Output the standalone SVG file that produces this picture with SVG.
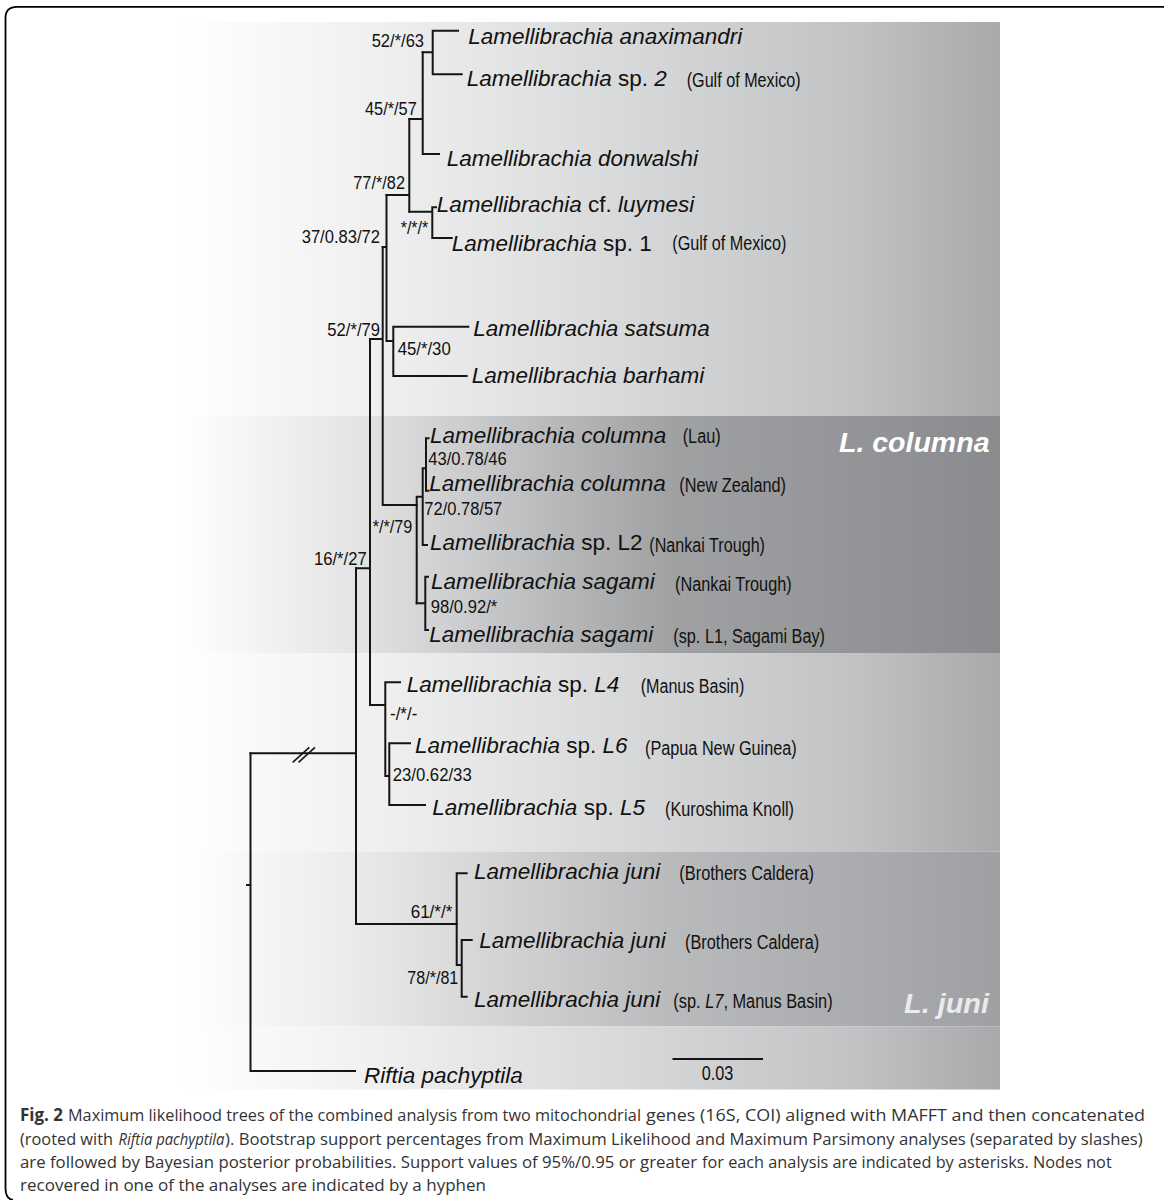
<svg xmlns="http://www.w3.org/2000/svg" width="1164" height="1200" viewBox="0 0 1164 1200">
<defs>
<linearGradient id="gLight" x1="180" y1="0" x2="1000" y2="0" gradientUnits="userSpaceOnUse">
<stop offset="0" stop-color="#ffffff"/>
<stop offset="0.25" stop-color="#efefef"/>
<stop offset="0.55" stop-color="#d7d8d9"/>
<stop offset="0.82" stop-color="#c2c3c5"/>
<stop offset="1" stop-color="#a8a9ab"/>
</linearGradient>
<linearGradient id="gDark" x1="180" y1="0" x2="1000" y2="0" gradientUnits="userSpaceOnUse">
<stop offset="0" stop-color="#ffffff"/>
<stop offset="0.2" stop-color="#e6e6e6"/>
<stop offset="0.45" stop-color="#b9babc"/>
<stop offset="0.6" stop-color="#a0a1a3"/>
<stop offset="1" stop-color="#8a8b8e"/>
</linearGradient>
<linearGradient id="gMid" x1="180" y1="0" x2="1000" y2="0" gradientUnits="userSpaceOnUse">
<stop offset="0" stop-color="#ffffff"/>
<stop offset="0.2" stop-color="#ececec"/>
<stop offset="0.4" stop-color="#d2d2d3"/>
<stop offset="0.6" stop-color="#b9babc"/>
<stop offset="1" stop-color="#9fa0a3"/>
</linearGradient>
</defs>
<style>
.br{fill:none;stroke:#151515;stroke-width:2;stroke-linecap:square}
.sp{font-family:"Liberation Sans",Arial,sans-serif;font-size:22.5px;font-style:italic;fill:#111}
.up{font-style:normal}
.loc{font-family:"Liberation Sans Narrow","Arial Narrow","Liberation Sans",sans-serif;font-size:20px;fill:#111}
.locit{font-family:"Liberation Sans Narrow","Arial Narrow","Liberation Sans",sans-serif;font-size:20px;font-style:italic;fill:#111}
.sup{font-family:"Liberation Sans",Arial,sans-serif;font-size:17.5px;fill:#111}
.clade{font-family:"Liberation Sans",Arial,sans-serif;font-size:28px;font-weight:bold;font-style:italic}
.cap{font-family:"Open Sans","Liberation Sans",sans-serif;font-size:17px;fill:#333}
.capb{font-family:"Open Sans","Liberation Sans",sans-serif;font-size:17px;font-weight:bold;fill:#333}
.capi{font-family:"Open Sans","Liberation Sans",sans-serif;font-size:17px;font-style:italic;fill:#333}
</style>
<rect width="1164" height="1200" fill="#ffffff"/>
<path d="M1164 6.8 H17 Q5.5 6.8 5.5 18 V1188 Q5.5 1199 13 1200" fill="none" stroke="#000" stroke-width="1.8"/>
<g id="background">
<rect x="180" y="22" width="820" height="394" fill="url(#gLight)"/>
<rect x="180" y="416" width="820" height="237" fill="url(#gDark)"/>
<rect x="180" y="653" width="820" height="198.5" fill="url(#gLight)"/>
<rect x="180" y="851.5" width="820" height="175" fill="url(#gMid)"/>
<rect x="180" y="1026.5" width="820" height="63" fill="url(#gLight)"/>
</g>
<g id="connectors">
<path class="br" d="M432.7 30.7 H458 M432.7 74.3 H461.7 M432.7 30.7 V74.3 M422.7 52.3 H432.7"/>
<path class="br" d="M422.7 154 H439 M422.7 52.3 V154 M409.3 119 H422.7"/>
<path class="br" d="M432.3 207.3 H436 M432.3 238 H451.7 M432.3 207.3 V238 M409.3 211.7 H432.3"/>
<path class="br" d="M409.3 119 V211.7 M386.5 195 H409.3"/>
<path class="br" d="M386.5 195 V341 M386.5 341 H393.3 M393.3 326.7 V376 M393.3 326.7 H468.3 M393.3 376 H466.7 M382.7 247 H386.5"/>
<path class="br" d="M382.7 247 V505 M370 339 H382.7 M382.7 505 H416.7"/>
<path class="br" d="M416.7 496.7 V603.3 M416.7 496.7 H422.7 M422.7 468.3 V545 M422.7 468.3 H426 M426 438.3 V490.7 M426 438.3 H428.5 M426 490.7 H428.5 M422.7 545 H427"/>
<path class="br" d="M416.7 603.3 H425.3 M425.3 576.7 V630 M425.3 576.7 H428 M425.3 630 H428"/>
<path class="br" d="M370 339 V705 M356 568.3 H370 M370 705 H385.3 M385.3 682.3 V776 M385.3 682.3 H400 M385.3 776 H389.3 M389.3 743.3 V805 M389.3 743.3 H410 M389.3 805 H425"/>
<path class="br" d="M356 568.3 V924 M250.5 753.3 H356 M356 924 H456.7"/>
<path class="br" d="M456.7 873.3 V965 M456.7 873.3 H466.7 M456.7 965 H461.7 M461.7 940 V996.7 M461.7 940 H471.7 M461.7 996.7 H466.7"/>
<path class="br" d="M250.5 753.3 V1071 M250.5 1071 H355 M247 885 H250.5"/>
<path d="M292.7 762.3 L309.3 747.3 M298.5 762.3 L315 747.3" fill="none" stroke="#151515" stroke-width="1.6"/>
<path d="M672.5 1059 H763" fill="none" stroke="#151515" stroke-width="2"/>
</g>
<g id="leaf-anaximandri"><text class="sp" x="468.3" y="44.3">Lamellibrachia anaximandri</text></g>
<g id="leaf-sp2"><text class="sp" x="466.7" y="86">Lamellibrachia<tspan class="up"> sp. </tspan>2</text><text class="loc" x="686.7" y="86.7" textLength="114" lengthAdjust="spacingAndGlyphs">(Gulf of Mexico)</text></g>
<g id="leaf-donwalshi"><text class="sp" x="446.7" y="165.7">Lamellibrachia donwalshi</text></g>
<g id="leaf-luymesi"><text class="sp" x="436.7" y="211.7">Lamellibrachia<tspan class="up"> cf. </tspan>luymesi</text></g>
<g id="leaf-sp1"><text class="sp" x="451.7" y="250.7">Lamellibrachia<tspan class="up"> sp. 1</tspan></text><text class="loc" x="672.3" y="250" textLength="114" lengthAdjust="spacingAndGlyphs">(Gulf of Mexico)</text></g>
<g id="leaf-satsuma"><text class="sp" x="473.3" y="336">Lamellibrachia satsuma</text></g>
<g id="leaf-barhami"><text class="sp" x="471.7" y="382.7">Lamellibrachia barhami</text></g>
<g id="leaf-columna-lau"><text class="sp" x="430" y="442.7">Lamellibrachia columna</text><text class="loc" x="682.7" y="443.3" textLength="38" lengthAdjust="spacingAndGlyphs">(Lau)</text></g>
<g id="leaf-columna-nz"><text class="sp" x="429.3" y="490.7">Lamellibrachia columna</text><text class="loc" x="679.3" y="491.7" textLength="106.7" lengthAdjust="spacingAndGlyphs">(New Zealand)</text></g>
<g id="leaf-L2"><text class="sp" x="430" y="550">Lamellibrachia<tspan class="up"> sp. L2</tspan></text><text class="loc" x="649.3" y="551.7" textLength="115.7" lengthAdjust="spacingAndGlyphs">(Nankai Trough)</text></g>
<g id="leaf-sagami-nankai"><text class="sp" x="431" y="589.3">Lamellibrachia sagami</text><text class="loc" x="675" y="591.3" textLength="116.7" lengthAdjust="spacingAndGlyphs">(Nankai Trough)</text></g>
<g id="leaf-sagami-bay"><text class="sp" x="429.3" y="641.7">Lamellibrachia sagami</text><text class="loc" x="673.3" y="642.9" textLength="151.7" lengthAdjust="spacingAndGlyphs">(sp. L1, Sagami Bay)</text></g>
<g id="leaf-L4"><text class="sp" x="406.7" y="691.7">Lamellibrachia<tspan class="up"> sp. </tspan>L4</text><text class="loc" x="640.7" y="692.8" textLength="103.7" lengthAdjust="spacingAndGlyphs">(Manus Basin)</text></g>
<g id="leaf-L6"><text class="sp" x="415" y="753.3">Lamellibrachia<tspan class="up"> sp. </tspan>L6</text><text class="loc" x="645" y="754.8" textLength="151.7" lengthAdjust="spacingAndGlyphs">(Papua New Guinea)</text></g>
<g id="leaf-L5"><text class="sp" x="432.3" y="815">Lamellibrachia<tspan class="up"> sp. </tspan>L5</text><text class="loc" x="665" y="816.1" textLength="129" lengthAdjust="spacingAndGlyphs">(Kuroshima Knoll)</text></g>
<g id="leaf-juni-1"><text class="sp" x="474" y="879">Lamellibrachia juni</text><text class="loc" x="679.3" y="879.8" textLength="134.7" lengthAdjust="spacingAndGlyphs">(Brothers Caldera)</text></g>
<g id="leaf-juni-2"><text class="sp" x="479.3" y="948.3">Lamellibrachia juni</text><text class="loc" x="685" y="949.4" textLength="134.3" lengthAdjust="spacingAndGlyphs">(Brothers Caldera)</text></g>
<g id="leaf-juni-L7"><text class="sp" x="474" y="1007.3">Lamellibrachia juni</text><text class="loc" x="673.3" y="1007.9" textLength="159.3" lengthAdjust="spacingAndGlyphs">(sp. <tspan font-style="italic">L7</tspan>, Manus Basin)</text></g>
<g id="leaf-riftia"><text class="sp" x="364" y="1082.7">Riftia pachyptila</text></g>
<g id="supports">
<text class="sup" x="371.7" y="47" textLength="52.3" lengthAdjust="spacingAndGlyphs">52/*/63</text>
<text class="sup" x="365" y="115" textLength="51.7" lengthAdjust="spacingAndGlyphs">45/*/57</text>
<text class="sup" x="353.3" y="189.3" textLength="51.7" lengthAdjust="spacingAndGlyphs">77/*/82</text>
<text class="sup" x="400.7" y="233.5" textLength="27.6" lengthAdjust="spacingAndGlyphs">*/*/*</text>
<text class="sup" x="301.7" y="243.3" textLength="78.3" lengthAdjust="spacingAndGlyphs">37/0.83/72</text>
<text class="sup" x="327.3" y="335.7" textLength="52.7" lengthAdjust="spacingAndGlyphs">52/*/79</text>
<text class="sup" x="397.7" y="355" textLength="53" lengthAdjust="spacingAndGlyphs">45/*/30</text>
<text class="sup" x="428.3" y="465" textLength="78.4" lengthAdjust="spacingAndGlyphs">43/0.78/46</text>
<text class="sup" x="424.3" y="515" textLength="78" lengthAdjust="spacingAndGlyphs">72/0.78/57</text>
<text class="sup" x="372.7" y="533.3" textLength="39.6" lengthAdjust="spacingAndGlyphs">*/*/79</text>
<text class="sup" x="314" y="565" textLength="52.7" lengthAdjust="spacingAndGlyphs">16/*/27</text>
<text class="sup" x="430.7" y="612.7" textLength="66.6" lengthAdjust="spacingAndGlyphs">98/0.92/*</text>
<text class="sup" x="390" y="720" textLength="27.3" lengthAdjust="spacingAndGlyphs">-/*/-</text>
<text class="sup" x="392.7" y="780.7" textLength="79" lengthAdjust="spacingAndGlyphs">23/0.62/33</text>
<text class="sup" x="410.7" y="918.3" textLength="41.6" lengthAdjust="spacingAndGlyphs">61/*/*</text>
<text class="sup" x="407.3" y="984" textLength="51" lengthAdjust="spacingAndGlyphs">78/*/81</text>
</g>
<g id="clade-columna"><text class="clade" x="839" y="451.5" fill="#ffffff" textLength="150.5" lengthAdjust="spacingAndGlyphs">L. columna</text></g>
<g id="clade-juni"><text class="clade" x="904" y="1013" fill="#ebebeb" textLength="85" lengthAdjust="spacingAndGlyphs">L. juni</text></g>
<g id="scale-bar"><text class="loc" x="701.7" y="1080" textLength="31.6" lengthAdjust="spacingAndGlyphs">0.03</text></g>
<g id="caption">
<text class="capb" x="20" y="1121" textLength="43" lengthAdjust="spacingAndGlyphs">Fig. 2</text>
<text class="cap" x="68" y="1121" textLength="573" lengthAdjust="spacingAndGlyphs">Maximum likelihood trees of the combined analysis from two mitochondrial</text>
<text class="cap" x="646" y="1121" textLength="499" lengthAdjust="spacingAndGlyphs">genes (16S, COI) aligned with MAFFT and then concatenated</text>
<text class="cap" x="20" y="1145" textLength="93" lengthAdjust="spacingAndGlyphs">(rooted with</text>
<text class="capi" x="118.5" y="1145" textLength="106" lengthAdjust="spacingAndGlyphs">Riftia pachyptila</text>
<text class="cap" x="225" y="1145" textLength="917.7" lengthAdjust="spacingAndGlyphs">). Bootstrap support percentages from Maximum Likelihood and Maximum Parsimony analyses (separated by slashes)</text>
<text class="cap" x="20" y="1168" textLength="677" lengthAdjust="spacingAndGlyphs">are followed by Bayesian posterior probabilities. Support values of 95%/0.95 or greater</text>
<text class="cap" x="702" y="1168" textLength="409.7" lengthAdjust="spacingAndGlyphs">for each analysis are indicated by asterisks. Nodes not</text>
<text class="cap" x="20" y="1191" textLength="466" lengthAdjust="spacingAndGlyphs">recovered in one of the analyses are indicated by a hyphen</text>
</g>
</svg>
